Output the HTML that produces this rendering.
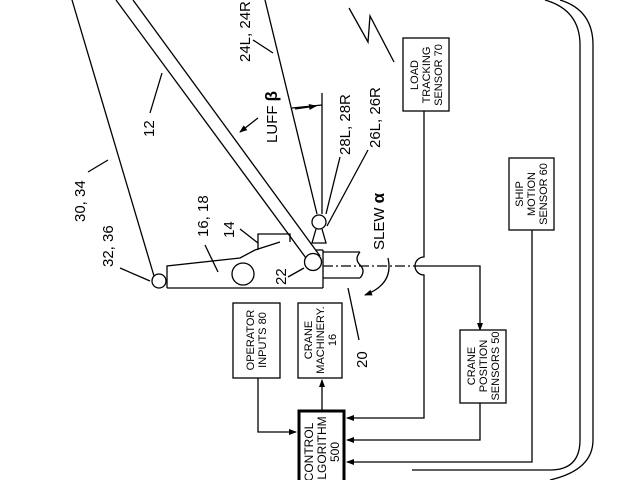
<!DOCTYPE html>
<html><head><style>
html,body{margin:0;padding:0;background:#fff;}
svg{display:block;}
text{font-family:"Liberation Sans",sans-serif;fill:#000;}
</style></head><body>
<svg width="640" height="480" viewBox="0 0 640 480" xmlns="http://www.w3.org/2000/svg">
<defs>
<marker id="ar" markerWidth="8" markerHeight="8" refX="7" refY="4" orient="auto" markerUnits="userSpaceOnUse">
<path d="M0,1 L8,4 L0,7 Z" fill="#000"/></marker>
</defs>
<g stroke="#000" stroke-width="1.3" fill="none">
<!-- boom -->
<line x1="116" y1="0" x2="306" y2="258"/>
<line x1="133" y1="0" x2="320" y2="256"/>
<!-- cable 30,34 -->
<line x1="72" y1="0" x2="154" y2="276"/>
<!-- cable 24L -->
<line x1="265" y1="0" x2="317" y2="214"/>
<!-- vertical luff reference -->
<line x1="322" y1="93" x2="322" y2="214"/>
<!-- lightning -->
<polyline points="349,8 368,42 370,16 394,62"/>
<!-- leaders -->
<line x1="150" y1="113" x2="162" y2="73"/>
<line x1="253" y1="40" x2="273" y2="53"/>
<line x1="340" y1="157" x2="326" y2="214"/>
<line x1="368" y1="150" x2="327" y2="226"/>
<line x1="88" y1="172" x2="108" y2="160"/>
<line x1="120" y1="268" x2="150" y2="281"/>
<line x1="205" y1="245" x2="218" y2="272"/>
<line x1="240" y1="229" x2="258" y2="243"/>
<line x1="288" y1="277" x2="304" y2="268"/>
<line x1="348" y1="288" x2="359" y2="340"/>
<!-- housing -->
<polyline points="167,288 167,266 240,258 255,250 280,242"/>
<polyline points="258,250 258,234 290,234 290,242"/>
<line x1="167" y1="288" x2="323" y2="288"/>
<line x1="323" y1="288" x2="323" y2="250"/>
<line x1="316" y1="250" x2="323" y2="250"/>
<circle cx="243" cy="274" r="11"/>
<circle cx="159" cy="281" r="7" fill="#fff"/>
<circle cx="313" cy="262" r="8.5" fill="#fff"/>
<!-- mast -->
<circle cx="319" cy="222" r="7" fill="#fff"/>
<path d="M316,229 L312,243 L326,243 L322,229"/>
<!-- shaft -->
<line x1="323" y1="252" x2="360" y2="252"/>
<line x1="323" y1="278" x2="360" y2="278"/>
<path d="M360,252 q-6,7 0,13 q6,6 0,13"/>
<line x1="323" y1="266" x2="416" y2="266" stroke-dasharray="10,3,2,3"/>
<!-- slew arc -->
<path d="M388,258 Q394,284 365,295" marker-end="url(#ar)"/>
<!-- luff arrows -->
<line x1="258" y1="118" x2="240" y2="132" marker-end="url(#ar)"/>
<line x1="295" y1="109" x2="316" y2="106" marker-end="url(#ar)"/>
<line x1="292" y1="108" x2="322" y2="105"/>
<!-- load tracking line -->
<path d="M424,111 L424,257 A9,9 0 0 0 424,275 L424,418 L347,418" marker-end="url(#ar)"/>
<!-- crane position feed -->
<path d="M416,266 L480,266 L480,330" marker-end="url(#ar)"/>
<path d="M480,403 L480,440 L347,440" marker-end="url(#ar)"/>
<!-- ship motion -->
<path d="M532,230 L532,462 L347,462" marker-end="url(#ar)"/>
<!-- operator -->
<path d="M258,378 L258,432 L296,432" marker-end="url(#ar)"/>
<!-- to crane machinery -->
<path d="M322,412 L322,380" marker-end="url(#ar)"/>
<!-- big double lines -->
<path d="M545,0 Q580,10 580,45 L580,440 Q580,470 550,470 L412,470"/>
<path d="M560,0 Q593,10 593,45 L593,440 Q593,470 550,480"/>
</g>
<!-- boxes -->
<g stroke="#000" fill="#fff">
<rect x="403" y="38" width="46" height="73" stroke-width="1.3"/>
<rect x="509" y="158" width="45" height="72" stroke-width="1.3"/>
<rect x="460" y="330" width="46" height="73" stroke-width="1.3"/>
<rect x="233" y="303" width="47" height="75" stroke-width="1.3"/>
<rect x="298" y="303" width="44" height="75" stroke-width="1.3"/>
<rect x="299" y="411" width="45" height="75" stroke-width="3"/>
</g>
<g font-size="11">
<text transform="translate(426,75) rotate(-90)" text-anchor="middle"><tspan x="0" y="-8">LOAD</tspan><tspan x="0" y="4">TRACKING</tspan><tspan x="0" y="16">SENSOR 70</tspan></text>
<text transform="translate(531,194) rotate(-90)" text-anchor="middle"><tspan x="0" y="-8">SHIP</tspan><tspan x="0" y="4">MOTION</tspan><tspan x="0" y="16">SENSOR 60</tspan></text>
<text transform="translate(483,366) rotate(-90)" text-anchor="middle"><tspan x="0" y="-8">CRANE</tspan><tspan x="0" y="4">POSITION</tspan><tspan x="0" y="16">SENSORS 50</tspan></text>
<text transform="translate(256,340) rotate(-90)" text-anchor="middle"><tspan x="0" y="-2">OPERATOR</tspan><tspan x="0" y="10">INPUTS 80</tspan></text>
<text transform="translate(320,340) rotate(-90)" text-anchor="middle"><tspan x="0" y="-8">CRANE</tspan><tspan x="0" y="4">MACHINERY.</tspan><tspan x="0" y="16">16</tspan></text>
<text transform="translate(321,452) rotate(-90)" text-anchor="middle" font-size="12"><tspan x="0" y="-8">CONTROL</tspan><tspan x="0" y="5">ALGORITHM</tspan><tspan x="0" y="18">500</tspan></text>
</g>
<g font-size="15">
<text transform="translate(250,62) rotate(-90)">24L, 24R</text>
<text transform="translate(154,137) rotate(-90)">12</text>
<text transform="translate(277,143) rotate(-90)">LUFF <tspan font-weight="bold" font-size="17">β</tspan></text>
<text transform="translate(350,155) rotate(-90)">28L, 28R</text>
<text transform="translate(380,148) rotate(-90)">26L, 26R</text>
<text transform="translate(85,222) rotate(-90)">30, 34</text>
<text transform="translate(113,267) rotate(-90)">32, 36</text>
<text transform="translate(208,237) rotate(-90)">16, 18</text>
<text transform="translate(234,238) rotate(-90)">14</text>
<text transform="translate(286,285) rotate(-90)">22</text>
<text transform="translate(384,250) rotate(-90)">SLEW <tspan font-weight="bold" font-size="17">α</tspan></text>
<text transform="translate(367,368) rotate(-90)">20</text>
</g>
</svg>
</body></html>
